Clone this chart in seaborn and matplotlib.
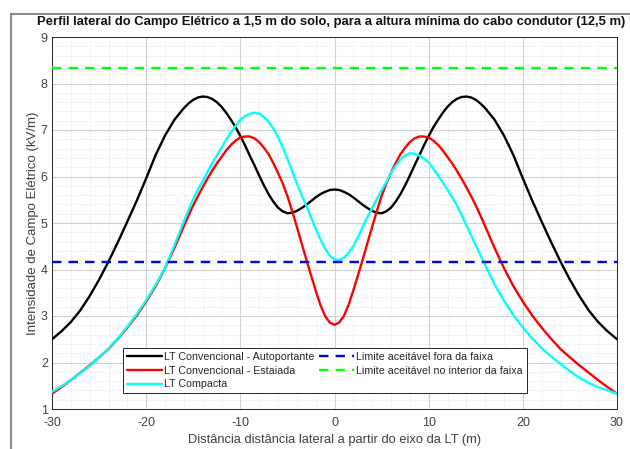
import numpy as np
import pandas as pd
import matplotlib
matplotlib.use("Agg")
import matplotlib.pyplot as plt
from matplotlib.patches import Rectangle
from matplotlib.ticker import MultipleLocator
import seaborn as sns

# ---------------- data ----------------
# sample positions: 1 m steps outside |x|<=16, 0.5 m steps inside
x_left = list(range(-30, -16))                       # -30 .. -17
x_mid = [v / 2 for v in range(-32, 33)]              # -16 .. 16 step 0.5
x_right = list(range(17, 31))                        # 17 .. 30
x_dist = x_left + x_mid + x_right

# |x| positions for the symmetric curves
xh_mid = [v / 2 for v in range(0, 33)]               # 0 .. 16 step 0.5
xh_out = list(range(17, 31))

# LT Convencional - Autoportante (symmetric)
auto_mid = [5.72, 5.71, 5.67, 5.62, 5.55, 5.47, 5.39, 5.32, 5.26, 5.22,
            5.21, 5.25, 5.33, 5.46, 5.62, 5.81, 6.02, 6.24, 6.45, 6.67,
            6.87, 7.06, 7.22, 7.37, 7.50, 7.60, 7.67, 7.71, 7.72, 7.70,
            7.65, 7.57, 7.47]
auto_out = [7.22, 6.88, 6.46, 5.96, 5.48, 5.03, 4.59, 4.17, 3.78, 3.43,
            3.12, 2.87, 2.67, 2.50]
# LT Convencional - Estaiada (symmetric)
esta_mid = [2.81, 2.86, 3.00, 3.24, 3.55, 3.88, 4.22, 4.57, 4.92, 5.26,
            5.58, 5.85, 6.08, 6.29, 6.48, 6.62, 6.74, 6.82, 6.86, 6.86,
            6.84, 6.77, 6.68, 6.56, 6.42, 6.28, 6.12, 5.95, 5.77, 5.58,
            5.38, 5.16, 4.93]
esta_out = [4.46, 4.03, 3.64, 3.31, 3.01, 2.75, 2.51, 2.29, 2.11, 1.94,
            1.78, 1.62, 1.47, 1.33]
# LT Compacta (asymmetric)
comp_left = [1.37, 1.49, 1.62, 1.77, 1.93, 2.11, 2.30, 2.52, 2.77, 3.04,
             3.34, 3.67, 4.03, 4.52]
comp_mid = [5.03, 5.28, 5.52, 5.72, 5.90, 6.09, 6.28, 6.45, 6.62, 6.79,
            6.95, 7.09, 7.22, 7.30, 7.35, 7.37, 7.35, 7.28, 7.18, 7.03,
            6.85, 6.63, 6.38, 6.12, 5.85, 5.61, 5.38, 5.12, 4.88, 4.65,
            4.45, 4.30, 4.22, 4.20, 4.25, 4.36, 4.50, 4.70, 4.92, 5.13,
            5.32, 5.52, 5.70, 5.88, 6.08, 6.23, 6.36, 6.45, 6.50, 6.49,
            6.45, 6.39, 6.30, 6.17, 6.02, 5.87, 5.72, 5.55, 5.38, 5.17,
            4.95, 4.74, 4.52, 4.31, 4.10]
comp_right = [3.68, 3.33, 3.02, 2.75, 2.52, 2.31, 2.13, 1.97, 1.81, 1.67,
              1.56, 1.47, 1.40, 1.33]

auto_half = auto_mid + auto_out
esta_half = esta_mid + esta_out
autoportante = auto_half[:0:-1] + auto_half
estaiada = esta_half[:0:-1] + esta_half
compacta = comp_left + comp_mid + comp_right

limit_x = [-30, 30]
limite_fora = [4.17, 4.17]
limite_interior = [8.33, 8.33]

series_names = ["LT Convencional - Autoportante", "LT Convencional - Estaiada", "LT Compacta"]
limit_names = ["Limite aceitável fora da faixa", "Limite aceitável no interior da faixa"]

title = "Perfil lateral do Campo Elétrico a 1,5 m do solo, para a altura mínima do cabo condutor (12,5 m)"
xlabel = "Distância distância lateral a partir do eixo da LT (m)"
ylabel = "Intensidade de Campo Elétrico (kV/m)"
xticks = [-30, -20, -10, 0, 10, 20, 30]
yticks = [1, 2, 3, 4, 5, 6, 7, 8, 9]

# ---------------- plotting ----------------
sns.set_style("white")
plt.rcParams['font.family'] = ['Liberation Sans', 'DejaVu Sans']
plt.rcParams['axes.unicode_minus'] = False

W, H = 630, 449
fig = plt.figure(figsize=(W / 100, H / 100), dpi=100)
ax = fig.add_axes([52 / W, 1 - 409 / H, (617 - 52) / W, (409 - 37) / H])

half_x = [-v for v in (xh_mid + xh_out)[:0:-1]] + (xh_mid + xh_out)
df = pd.DataFrame({"x": half_x, series_names[0]: autoportante,
                   series_names[1]: estaiada})
dfc = pd.DataFrame({"x": x_dist, series_names[2]: compacta})
lw = 1.7
sns.lineplot(data=df, x="x", y=series_names[0], color="#000000", lw=lw,
             ax=ax, label=series_names[0], zorder=3)
sns.lineplot(data=df, x="x", y=series_names[1], color="#ff0000", lw=lw,
             ax=ax, label=series_names[1], zorder=3)
sns.lineplot(data=dfc, x="x", y=series_names[2], color="#00ffff", lw=lw,
             ax=ax, label=series_names[2], zorder=3)

dfl = pd.DataFrame({"x": limit_x, "a": limite_fora, "b": limite_interior})
sns.lineplot(data=dfl, x="x", y="a", color="#0000ff", lw=lw, ax=ax,
             label=limit_names[0], zorder=3)
sns.lineplot(data=dfl, x="x", y="b", color="#00ff00", lw=lw, ax=ax,
             label=limit_names[1], zorder=3)
for ln in ax.get_lines()[3:5]:
    ln.set_linestyle((0, (4, 3)))

ax.set_xlim(-30, 30)
ax.set_ylim(1, 9)
ax.set_xticks(xticks)
ax.set_yticks(yticks)
ax.xaxis.set_minor_locator(MultipleLocator(2))
ax.yaxis.set_minor_locator(MultipleLocator(0.2))
ax.grid(True, which="major", color="#d2d2d2", lw=0.8, ls="-", zorder=0)
ax.grid(True, which="minor", color="#d8d8d8", lw=0.6, ls=(0, (1, 2)), zorder=0)
ax.set_axisbelow(True)
ax.tick_params(which="major", direction="in", length=4, width=0.6,
               color="#262626", labelsize=9, labelcolor="#404040")
ax.tick_params(axis="x", which="major", pad=6)
ax.tick_params(axis="y", which="major", pad=3)
ax.tick_params(which="minor", length=0)
for s in ax.spines.values():
    s.set_color("#262626")
    s.set_linewidth(0.7)

ax.set_xlabel(xlabel, fontsize=9.3, color="#404040", labelpad=3)
ax.set_ylabel(ylabel, fontsize=9.5, color="#404040", labelpad=1)

leg = ax.legend(ncol=2, loc="lower left", bbox_to_anchor=(0.1257, 0.043),
                fontsize=7.7, frameon=True, fancybox=False, framealpha=1,
                edgecolor="#262626", handlelength=3.3, handletextpad=0.2,
                columnspacing=0.4, labelspacing=0.35, borderpad=0.35,
                borderaxespad=0)
leg.get_frame().set_linewidth(0.7)
for t in leg.get_texts():
    t.set_color("#262626")

fig.text(37 / W, 1 - 22 / H, title, fontsize=9.35, fontweight="bold",
         ha="left", va="center", color="#111111")

# outer gray frame
fig.patches.append(Rectangle((11 / W, -0.1), 1.2, 1 - 14 / H + 0.1,
                             transform=fig.transFigure, fill=False,
                             edgecolor="#8a8a8a", lw=1.5, zorder=0))

fig.savefig("out.png", dpi=100)
